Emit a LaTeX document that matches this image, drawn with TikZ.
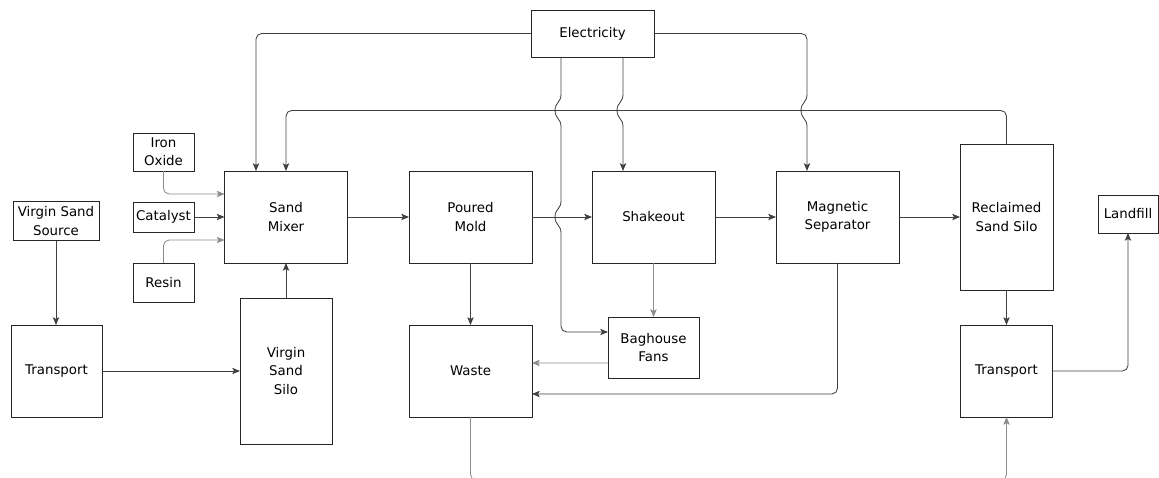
\documentclass[tikz,border=0pt]{standalone}
\usepackage{fontspec}
\setmainfont{DejaVu Sans}
\usetikzlibrary{arrows.meta}
\tikzset{
  blk/.style={draw=black!85, line width=0.65pt, align=center, inner sep=0pt, outer sep=0pt, font=\fontsize{9.5}{13}\selectfont},
  conn/.style={draw=black!75, line width=0.6pt, -{Stealth[length=5.5pt,width=4.5pt,inset=1.2pt]}},
  pale/.style={draw=black!45}
}
% little jump where a line crosses another one
\newcommand\linehop[2]{-- (#1,#2-16) .. controls (#1,#2-8) and (#1-6,#2-8) .. (#1-6,#2) .. controls (#1-6,#2+8) and (#1,#2+8) .. (#1,#2+16)}

\begin{document}
\begin{tikzpicture}[x=0.025cm, y=-0.025cm]
\useasboundingbox (0,0) rectangle (1159,478);

\node[blk, minimum width=3.075cm, minimum height=1.175cm] (elec) at (592.5,33.5) {Electricity};
\node[blk, minimum width=1.525cm, minimum height=0.95cm] (iron) at (163.5,152) {Iron\\Oxide};
\node[blk, minimum width=1.525cm, minimum height=0.75cm] (cat) at (163.5,217) {Catalyst};
\node[blk, minimum width=1.525cm, minimum height=0.975cm] (resin) at (163.5,282.5) {Resin};
\node[blk, minimum width=2.15cm, minimum height=0.975cm] (vsrc) at (56,221) {Virgin Sand\\Source};
\node[blk, minimum width=3.075cm, minimum height=2.3cm] (mixer) at (286,217) {Sand\\Mixer};
\node[blk, minimum width=3.075cm, minimum height=2.3cm] (mold) at (470.5,217) {Poured\\Mold};
\node[blk, minimum width=3.075cm, minimum height=2.3cm] (shake) at (653.5,217) {Shakeout};
\node[blk, minimum width=3.075cm, minimum height=2.3cm] (magsep) at (837.5,217) {Magnetic\\Separator};
\node[blk, minimum width=2.325cm, minimum height=3.65cm] (rsilo) at (1006.5,217) {Reclaimed\\Sand Silo};
\node[blk, minimum width=1.5cm, minimum height=0.95cm] (landfill) at (1128,214) {Landfill};
\node[blk, minimum width=2.275cm, minimum height=2.3cm] (trL) at (56.5,371) {Transport};
\node[blk, minimum width=2.3cm, minimum height=3.65cm] (vsilo) at (286,371) {Virgin\\Sand\\Silo};
\node[blk, minimum width=3.075cm, minimum height=2.3cm] (waste) at (470.5,371) {Waste};
\node[blk, minimum width=2.275cm, minimum height=1.525cm] (bag) at (653.5,347.5) {Baghouse\\Fans};
\node[blk, minimum width=2.3cm, minimum height=2.3cm] (trR) at (1006.5,371) {Transport};

\coordinate (recy) at (0,110.5);
\coordinate (bot) at (0,480);

% electricity
\draw[conn, rounded corners=4pt] (elec.west) -| ([shift={(-30,0)}]mixer.north);
\draw[conn] ([shift={(30.5,0)}]elec.south) \linehop{623}{110.5} -- ([shift={(-30.5,0)}]shake.north);
\draw[conn] (elec.east) [rounded corners=4pt] -| (807,60) [sharp corners] \linehop{807}{110.5} -- ([shift={(-30.5,0)}]magsep.north);
\draw[conn] ([shift={(-31.5,0)}]elec.south) \linehop{561}{110.5} \linehop{561}{217} -- (561,300) [rounded corners=4pt] |- ([shift={(0,-15.5)}]bag.west);

% sand recycle
\draw[conn, rounded corners=4pt] (rsilo.north) |- (recy -| mixer.north) -- (mixer.north);

% mixer inputs
\draw[conn, pale, rounded corners=4pt] (iron.south) |- ([shift={(0,-23)}]mixer.west);
\draw[conn] (cat.east) -- (mixer.west);
\draw[conn, pale, rounded corners=4pt] (resin.north) |- ([shift={(0,23)}]mixer.west);
\draw[conn] (vsrc.south) -- (vsrc.south |- trL.north);
\draw[conn] (trL.east) -- (vsilo.west);
\draw[conn] (vsilo.north) -- (mixer.south);

% main line
\draw[conn] (mixer.east) -- (mold.west);
\draw[conn] (mold.east) -- (shake.west);
\draw[conn] (shake.east) -- (magsep.west);
\draw[conn] (magsep.east) -- (rsilo.west);

% waste
\draw[conn] (mold.south) -- (waste.north);
\draw[conn, pale] (shake.south) -- (bag.north);
\draw[conn, pale] ([shift={(0,15.5)}]bag.west) -- ([shift={(0,-8)}]waste.east);
\draw[conn, rounded corners=4pt] (magsep.south) |- ([shift={(0,23)}]waste.east);
\draw[conn, pale, rounded corners=4pt] (waste.south) |- (bot -| trR.south) -- (trR.south);

% reclaimed sand
\draw[conn] (rsilo.south) -- (trR.north);
\draw[conn, rounded corners=4pt] (trR.east) -| (landfill.south);
\end{tikzpicture}
\end{document}
